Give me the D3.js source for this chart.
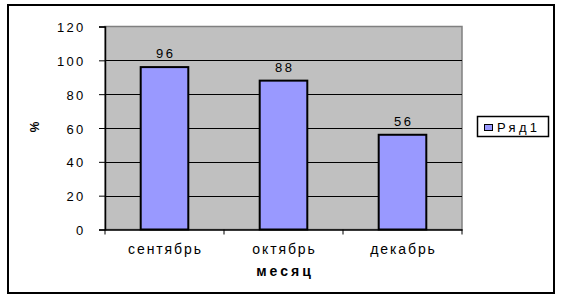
<!DOCTYPE html>
<html><head><meta charset="utf-8">
<script src="https://cdn.jsdelivr.net/npm/d3@7"></script>
<style>body{margin:0;background:#fff}svg{display:block}text{font-family:"Liberation Sans",Arial,sans-serif}</style>
</head><body>
<script>
const categories = ["сентябрь", "октябрь", "декабрь"];
const values = [96, 88, 56];
const yTicks = [0, 20, 40, 60, 80, 100, 120];
const seriesName = "Ряд1";
const xTitle = "месяц";
const yTitle = "%";

const W = 565, H = 300;
const svg = d3.select("body").append("svg").attr("width", W).attr("height", H);
const m = {left: 105, right: 462, top: 26.5, bottom: 229.5};
const FONT = '"Liberation Sans",Arial,sans-serif';

// outer frame
svg.append("rect").attr("x", 8).attr("y", 5).attr("width", 546).attr("height", 288)
  .attr("fill", "#fff").attr("stroke", "#000").attr("stroke-width", 2);

const x = d3.scaleBand().domain(categories).range([m.left, m.right]).paddingInner(0.6).paddingOuter(0.3);
const xb = d3.scaleBand().domain(categories).range([m.left, m.right]);
const y = d3.scaleLinear().domain([0, 120]).range([m.bottom, m.top]);

// plot area
svg.append("rect").attr("x", m.left).attr("y", m.top).attr("width", m.right - m.left).attr("height", m.bottom - m.top)
  .attr("fill", "#C0C0C0").attr("stroke", "#808080").attr("stroke-width", 1.5);

// gridlines
svg.append("g").selectAll("line").data(yTicks.filter(d => d > 0 && d < 120)).join("line")
  .attr("x1", m.left).attr("x2", m.right).attr("y1", d => Math.round(y(d)) + 0.5).attr("y2", d => Math.round(y(d)) + 0.5)
  .attr("stroke", "#000").attr("stroke-width", 1);

// bars
svg.append("g").selectAll("rect").data(values).join("rect")
  .attr("x", (d, i) => x(categories[i])).attr("width", x.bandwidth())
  .attr("y", d => y(d)).attr("height", d => y(0) - y(d))
  .attr("fill", "#9999FF").attr("stroke", "#000").attr("stroke-width", 2);

// value labels
svg.append("g").selectAll("text").data(values).join("text")
  .attr("x", (d, i) => x(categories[i]) + x.bandwidth() / 2 + 1.2).attr("y", d => y(d) - 9)
  .attr("text-anchor", "middle").attr("font-size", 13).attr("letter-spacing", 2.4).text(d => d);

// y axis
const yAxis = svg.append("g").attr("transform", `translate(${m.left},0)`)
  .call(d3.axisLeft(y).tickValues(yTicks).tickSize(6).tickPadding(13.5));
yAxis.select(".domain").attr("stroke", "#000").attr("stroke-width", 1.5);
yAxis.selectAll(".tick line").attr("stroke", "#000");
yAxis.selectAll("text").attr("font-size", 13).attr("fill", "#000").attr("dy", 5)
  .style("font-family", FONT).attr("letter-spacing", 2.3);

// x axis
const xAxis = svg.append("g").attr("transform", `translate(0,${m.bottom})`)
  .call(d3.axisBottom(xb).tickSize(0).tickPadding(0));
xAxis.select(".domain").attr("stroke", "#000").attr("stroke-width", 1.5);
xAxis.selectAll("text").attr("font-size", 14).attr("fill", "#000").attr("dy", 0).attr("y", 24)
  .style("font-family", FONT).attr("letter-spacing", 1.9).attr("dx", 1);
// category boundary ticks
svg.append("g").selectAll("line").data(categories.map(c => xb(c)).concat([m.right])).join("line")
  .attr("x1", d => d).attr("x2", d => d).attr("y1", m.bottom).attr("y2", m.bottom + 5)
  .attr("stroke", "#000");

// axis titles
svg.append("text").attr("x", (m.left + m.right) / 2 + 1.5).attr("y", 275.5).attr("text-anchor", "middle")
  .attr("font-size", 14).attr("font-weight", "bold").attr("letter-spacing", 3).text(xTitle);
svg.append("text").attr("transform", "translate(39,127) rotate(-90)").attr("text-anchor", "middle")
  .attr("font-size", 12).attr("font-weight", "bold").text(yTitle);

// legend
const lg = svg.append("g");
lg.append("rect").attr("x", 477.5).attr("y", 116.5).attr("width", 71).attr("height", 20)
  .attr("fill", "#fff").attr("stroke", "#000").attr("stroke-width", 1.5);
lg.append("rect").attr("x", 484.5).attr("y", 124.5).attr("width", 8).attr("height", 6)
  .attr("fill", "#9999FF").attr("stroke", "#000").attr("stroke-width", 1);
lg.append("text").attr("x", 497).attr("y", 132).attr("font-size", 13).attr("letter-spacing", 3.3).text(seriesName);
</script>
</body></html>
